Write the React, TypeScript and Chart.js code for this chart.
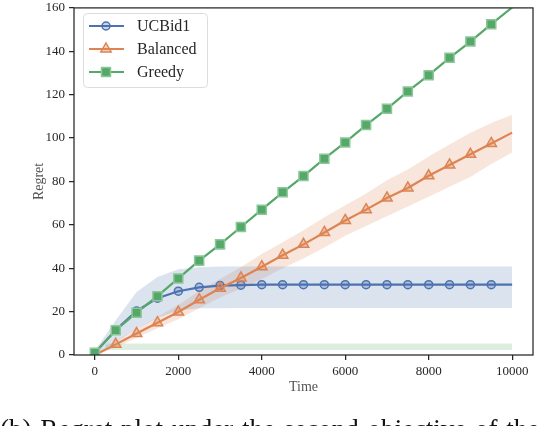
import React, { useEffect, useRef } from "react";
import { Chart, registerables } from "chart.js";

Chart.register(...registerables);

// ---- data ----
const times = [0, 500, 1000, 1500, 2000, 2500, 3000, 3500, 4000, 4500, 5000, 5500, 6000, 6500, 7000, 7500, 8000, 8500, 9000, 9500, 10000];

const ucbMean = [1, 11.5, 20.3, 26.2, 29.4, 31.2, 32.0, 32.2, 32.4, 32.4, 32.4, 32.4, 32.4, 32.4, 32.4, 32.4, 32.4, 32.4, 32.4, 32.4, 32.4];
const ucbLower = [0, 6, 12, 17, 20.5, 21.5, 21.5, 21.7, 21.7, 21.7, 21.7, 21.7, 21.7, 21.7, 21.7, 21.7, 21.7, 21.7, 21.7, 21.7, 21.7];
const ucbUpper = [2, 16, 29, 36, 39.5, 40.5, 40.8, 40.8, 40.8, 40.8, 40.8, 40.8, 40.8, 40.8, 40.8, 40.8, 40.8, 40.8, 40.8, 40.8, 40.8];

const balMean = [0, 4.9, 9.9, 14.9, 19.8, 25.5, 30.8, 35.5, 40.7, 46, 51, 56.5, 62, 67, 72.4, 77, 82.6, 87.6, 92.5, 97.5, 102.5];
const balLower = [0, 3.5, 8, 12.3, 16.5, 21.5, 26.5, 30.5, 35, 40, 44.5, 49.5, 55, 59.5, 64, 68.5, 73, 77.5, 82, 88, 93.4];
const balUpper = [0.5, 6.5, 12, 17.5, 23, 29.5, 35, 40.5, 46.5, 52, 57.5, 63.5, 69, 74.5, 80.5, 85.5, 91.5, 97, 102.5, 107, 110.8];

const greedyMean = [1, 11.4, 19.5, 27.1, 35.3, 43.5, 51, 59, 67, 75, 82.5, 90.5, 98, 106, 113.5, 121.5, 129, 137, 144.5, 152.5, 160.2];
const greedyBandTimes = [250, 10000];
const greedyLower = [2.3, 2.3];
const greedyUpper = [5.3, 5.3];

const xTicks = [0, 2000, 4000, 6000, 8000, 10000];
const yTicks = [0, 20, 40, 60, 80, 100, 120, 140, 160];

const seriesNames = ["UCBid1", "Balanced", "Greedy"];

// ---- style ----
const BLUE = "#4C72B0";
const ORANGE = "#DD8452";
const GREEN = "#55A868";
const FONT = "'Liberation Serif', 'DejaVu Serif', serif";
const INK = "#262626";

const pts = (xs: number[], ys: number[]) => xs.map((x, i) => ({ x, y: ys[i] }));
const lastIdx = times.length - 1;

const framePlugin = {
  id: "frameAndLegend",
  afterDraw(chart: any) {
    const { ctx, chartArea } = chart;
    const { left, right, top, bottom } = chartArea;
    ctx.save();
    ctx.strokeStyle = INK;
    ctx.lineWidth = 1.25;
    ctx.strokeRect(left, top, right - left, bottom - top);

    // legend box
    const bx = 83.5, by = 13.5, bw = 124, bh = 74, r = 4;
    ctx.beginPath();
    ctx.moveTo(bx + r, by);
    ctx.lineTo(bx + bw - r, by);
    ctx.quadraticCurveTo(bx + bw, by, bx + bw, by + r);
    ctx.lineTo(bx + bw, by + bh - r);
    ctx.quadraticCurveTo(bx + bw, by + bh, bx + bw - r, by + bh);
    ctx.lineTo(bx + r, by + bh);
    ctx.quadraticCurveTo(bx, by + bh, bx, by + bh - r);
    ctx.lineTo(bx, by + r);
    ctx.quadraticCurveTo(bx, by, bx + r, by);
    ctx.closePath();
    ctx.fillStyle = "rgba(255,255,255,0.85)";
    ctx.fill();
    ctx.strokeStyle = "#dcdcdc";
    ctx.lineWidth = 1;
    ctx.stroke();

    const colors = [BLUE, ORANGE, GREEN];
    seriesNames.forEach((name, i) => {
      const y = 26 + i * 23;
      const c = colors[i];
      ctx.strokeStyle = c;
      ctx.lineWidth = 2.2;
      ctx.beginPath();
      ctx.moveTo(89, y);
      ctx.lineTo(124, y);
      ctx.stroke();
      const mx = 106;
      ctx.lineWidth = 1.5;
      if (i === 0) {
        ctx.beginPath();
        ctx.arc(mx, y, 4, 0, Math.PI * 2);
        ctx.fillStyle = "rgba(76,114,176,0.3)";
        ctx.fill();
        ctx.strokeStyle = c;
        ctx.stroke();
      } else if (i === 1) {
        const rr = 6;
        ctx.beginPath();
        ctx.moveTo(mx, y - rr);
        ctx.lineTo(mx + rr * 0.866, y + rr * 0.5);
        ctx.lineTo(mx - rr * 0.866, y + rr * 0.5);
        ctx.closePath();
        ctx.fillStyle = "rgba(221,132,82,0.35)";
        ctx.fill();
        ctx.strokeStyle = c;
        ctx.stroke();
      } else {
        ctx.fillStyle = c;
        ctx.fillRect(mx - 4.5, y - 4.5, 9, 9);
        ctx.strokeStyle = "#8cc79a";
        ctx.strokeRect(mx - 4.5, y - 4.5, 9, 9);
      }
      ctx.fillStyle = INK;
      ctx.font = `16px ${FONT}`;
      ctx.textBaseline = "middle";
      ctx.textAlign = "left";
      ctx.fillText(name, 137, y + 1);
    });
    ctx.restore();
  },
};

export default function App() {
  const ref = useRef<HTMLCanvasElement | null>(null);

  useEffect(() => {
    if (!ref.current) return;
    const bandCommon = {
      showLine: true,
      borderWidth: 0,
      pointRadius: 0,
      order: 10,
    } as any;
    const lineCommon = (color: string, order: number) => ({
      showLine: true,
      borderColor: color,
      borderWidth: 2.2,
      fill: false,
      order,
      pointBorderColor: color,
      pointBorderWidth: 1.5,
    });
    const chart = new Chart(ref.current, {
      type: "scatter",
      data: {
        datasets: [
          { ...bandCommon, label: "ucbL", data: pts(times, ucbLower), borderColor: "transparent", fill: false },
          { ...bandCommon, label: "ucbU", data: pts(times, ucbUpper), borderColor: "transparent", backgroundColor: "rgba(76,114,176,0.2)", fill: "-1" },
          { ...bandCommon, label: "balL", data: pts(times, balLower), borderColor: "transparent", fill: false },
          { ...bandCommon, label: "balU", data: pts(times, balUpper), borderColor: "transparent", backgroundColor: "rgba(221,132,82,0.2)", fill: "-1" },
          { ...bandCommon, label: "grL", data: pts(greedyBandTimes, greedyLower), borderColor: "transparent", fill: false },
          { ...bandCommon, label: "grU", data: pts(greedyBandTimes, greedyUpper), borderColor: "transparent", backgroundColor: "rgba(85,168,104,0.2)", fill: "-1" },
          {
            ...lineCommon(GREEN, 0),
            label: seriesNames[2],
            data: pts(times, greedyMean),
            pointStyle: "rect",
            pointBackgroundColor: GREEN,
            pointBorderColor: "#8cc79a",
            pointRadius: (c: any) => (c.dataIndex === lastIdx ? 0 : 6.4),
          },
          {
            ...lineCommon(ORANGE, 1),
            label: seriesNames[1],
            data: pts(times, balMean),
            pointStyle: "triangle",
            pointBackgroundColor: "rgba(221,132,82,0.35)",
            pointRadius: (c: any) => (c.dataIndex === lastIdx ? 0 : 6),
          },
          {
            ...lineCommon(BLUE, 2),
            label: seriesNames[0],
            data: pts(times, ucbMean),
            pointStyle: "circle",
            pointBackgroundColor: "rgba(76,114,176,0.3)",
            pointRadius: (c: any) => (c.dataIndex === lastIdx ? 0 : 4),
          },
        ],
      },
      options: {
        animation: false,
        responsive: true,
        maintainAspectRatio: false,
        layout: { padding: { left: 0, right: 9, top: 5, bottom: 29 } },
        plugins: {
          legend: { display: false },
          tooltip: { enabled: false },
        },
        elements: { line: { tension: 0 } },
        scales: {
          x: {
            type: "linear",
            min: -500,
            max: 10500,
            afterBuildTicks: (s: any) => {
              s.ticks = xTicks.map((v) => ({ value: v }));
            },
            afterFit: (s: any) => {
              s.height = 42;
              s.paddingLeft = 0;
              s.paddingRight = 0;
            },
            border: { display: false },
            grid: { display: true, drawOnChartArea: false, drawTicks: true, tickLength: 5, color: INK, lineWidth: 1.25 },
            ticks: {
              color: INK,
              font: { family: FONT, size: 13 },
              padding: 4,
              maxRotation: 0,
              autoSkip: false,
              callback: (v: any) => String(v),
            },
            title: {
              display: true,
              text: "Time",
              color: "#555555",
              font: { family: FONT, size: 14 },
              padding: { top: 0, bottom: 1 },
            },
          },
          y: {
            type: "linear",
            min: 0,
            max: 160,
            afterBuildTicks: (s: any) => {
              s.ticks = yTicks.map((v) => ({ value: v }));
            },
            afterFit: (s: any) => {
              s.width = 74;
              s.paddingTop = 0;
              s.paddingBottom = 0;
            },
            border: { display: false },
            grid: { display: true, drawOnChartArea: false, drawTicks: true, tickLength: 5, color: INK, lineWidth: 1.25 },
            ticks: {
              color: INK,
              font: { family: FONT, size: 13 },
              padding: 4,
              autoSkip: false,
              callback: (v: any) => String(v),
            },
            title: {
              display: true,
              text: "Regret",
              color: "#555555",
              font: { family: FONT, size: 14 },
              padding: { top: 31, bottom: 0 },
            },
          },
        },
      } as any,
      plugins: [framePlugin],
    });
    return () => chart.destroy();
  }, []);

  return (
    <div style={{ position: "fixed", left: 0, top: 0, width: 542, height: 426, overflow: "hidden", background: "#fff" }}>
      <div style={{ position: "absolute", left: 0, top: 0, width: 542, height: 426 }}>
        <canvas ref={ref} />
      </div>
      <div
        style={{
          position: "absolute",
          left: 0,
          top: 414,
          whiteSpace: "nowrap",
          fontFamily: FONT,
          fontSize: 27,
          color: "#111",
          lineHeight: "normal",
          wordSpacing: 2,
        }}
      >
        (b) Regret plot under the second objective of the
      </div>
    </div>
  );
}
